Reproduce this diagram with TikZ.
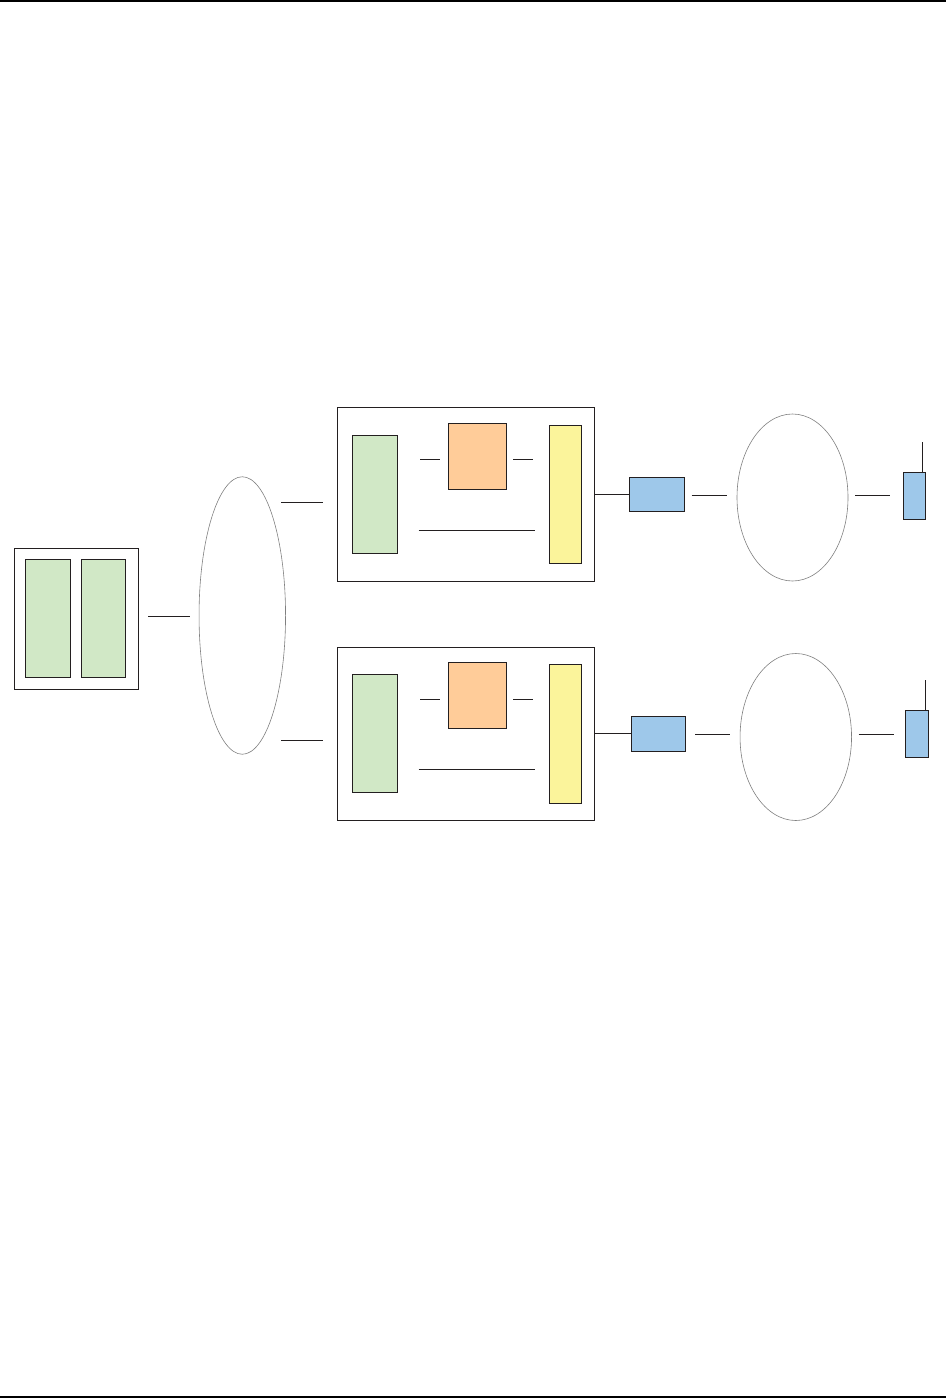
\documentclass[tikz,border=0pt]{standalone}
\usepackage{amsmath,amssymb}
\usetikzlibrary{shapes.geometric}
\definecolor{verdeBox}{HTML}{D1E8C6}
\definecolor{naranjaBox}{HTML}{FFCC99}
\definecolor{amarilloBox}{HTML}{FBF49B}
\definecolor{azulBox}{HTML}{9EC8EA}
\definecolor{linea}{HTML}{231F20}
\tikzset{
  wire/.style={draw=linea,line width=0.9pt},
  rule/.style={draw=black,line width=2.4pt},
  frame/.style={draw=linea,line width=0.9pt,fill=white,inner sep=0pt,outer sep=0pt},
  cloud/.style={ellipse,draw=gray,line width=0.6pt,fill=white,inner sep=0pt,outer sep=0pt}
}
\begin{document}
\begin{tikzpicture}[x=1pt,y=-1pt]
    \useasboundingbox (0,0) rectangle (946,1398);
    \coordinate (ruleTopL) at (0,1.2);
    \coordinate (ruleTopR) at (946,1.2);
    \coordinate (ruleBotL) at (0,1396.8);
    \coordinate (ruleBotR) at (946,1396.8);
    \draw[rule] (ruleTopL) -- (ruleTopR);
    \draw[rule] (ruleBotL) -- (ruleBotR);

    % left unit
    \node[frame,minimum width=124.2pt,minimum height=141pt] (unit) at (76.4,618.8) {};
    \node[frame,fill=verdeBox,minimum width=45.2pt,minimum height=118pt] (unitL) at (47.9,618.3) {};
    \node[frame,fill=verdeBox,minimum width=44pt,minimum height=118pt] (unitR) at (103.5,618.3) {};
    \node[cloud,minimum width=86.5pt,minimum height=277.5pt] (net) at (242.3,615.5) {};
    \coordinate (netInA) at (148,616.3);
    \coordinate (netInB) at (190,616.3);
    \draw[wire] (netInA) -- (netInB);
    \coordinate (netUpA) at (281,502.3);
    \coordinate (netUpB) at (323,502.3);
    \draw[wire] (netUpA) -- (netUpB);
    \coordinate (netDnA) at (281,740.3);
    \coordinate (netDnB) at (323,740.3);
    \draw[wire] (netDnA) -- (netDnB);

    % upper branch
    \node[frame,minimum width=257pt,minimum height=173.8pt] (boxA) at (465.8,494.4) {};
    \node[frame,fill=verdeBox,minimum width=45.2pt,minimum height=118pt] (greenA) at (374.9,494.3) {};
    \node[frame,fill=naranjaBox,minimum width=58.2pt,minimum height=66pt] (orangeA) at (477.4,456.3) {};
    \node[frame,fill=amarilloBox,minimum width=32pt,minimum height=138.2pt] (yellowA) at (565.5,494.4) {};
    \node[frame,fill=azulBox,minimum width=55.2pt,minimum height=34pt] (blueA) at (656.9,494.3) {};
    \node[cloud,minimum width=111pt,minimum height=167pt] (airA) at (792.5,497.5) {};
    \node[frame,fill=azulBox,minimum width=22.2pt,minimum height=47pt] (radioA) at (914.4,495.8) {};
    \coordinate (antA) at (922.3,442);
    \coordinate (inA1) at (420,459.3);
    \coordinate (inA2) at (440,459.3);
    \coordinate (inA3) at (513,459.3);
    \coordinate (inA4) at (533,459.3);
    \coordinate (inA5) at (418.5,530.3);
    \coordinate (inA6) at (535,530.3);
    \coordinate (airA1) at (691.5,495.3);
    \coordinate (airA2) at (726.5,495.3);
    \coordinate (airA3) at (855,495.3);
    \coordinate (airA4) at (890,495.3);
    \draw[wire] (inA1) -- (inA2);
    \draw[wire] (inA3) -- (inA4);
    \draw[wire] (inA5) -- (inA6);
    \draw[wire] (boxA.east |- blueA) -- (blueA);
    \draw[wire] (airA1) -- (airA2);
    \draw[wire] (airA3) -- (airA4);
    \draw[wire] (antA) -- (antA |- radioA.north);

    % lower branch
    \node[frame,minimum width=257pt,minimum height=173pt] (boxB) at (465.8,734) {};
    \node[frame,fill=verdeBox,minimum width=45.2pt,minimum height=118pt] (greenB) at (374.9,733.3) {};
    \node[frame,fill=naranjaBox,minimum width=58.2pt,minimum height=66pt] (orangeB) at (477.4,695.3) {};
    \node[frame,fill=amarilloBox,minimum width=32pt,minimum height=138.7pt] (yellowB) at (565.5,733.7) {};
    \node[frame,fill=azulBox,minimum width=54.2pt,minimum height=35pt] (blueB) at (658.4,733.8) {};
    \node[cloud,minimum width=111.5pt,minimum height=167pt] (airB) at (795.8,737) {};
    \node[frame,fill=azulBox,minimum width=23.2pt,minimum height=47pt] (radioB) at (916.9,733.8) {};
    \coordinate (antB) at (925.3,680);
    \coordinate (inB1) at (420,699.3);
    \coordinate (inB2) at (440,699.3);
    \coordinate (inB3) at (513,699.3);
    \coordinate (inB4) at (533,699.3);
    \coordinate (inB5) at (418.5,769.3);
    \coordinate (inB6) at (535,769.3);
    \coordinate (airB1) at (695,734.3);
    \coordinate (airB2) at (730,734.3);
    \coordinate (airB3) at (858.5,734.3);
    \coordinate (airB4) at (893.5,734.3);
    \draw[wire] (inB1) -- (inB2);
    \draw[wire] (inB3) -- (inB4);
    \draw[wire] (inB5) -- (inB6);
    \draw[wire] (boxB.east |- blueB) -- (blueB);
    \draw[wire] (airB1) -- (airB2);
    \draw[wire] (airB3) -- (airB4);
    \draw[wire] (antB) -- (antB |- radioB.north);
  \end{tikzpicture}
\end{document}
